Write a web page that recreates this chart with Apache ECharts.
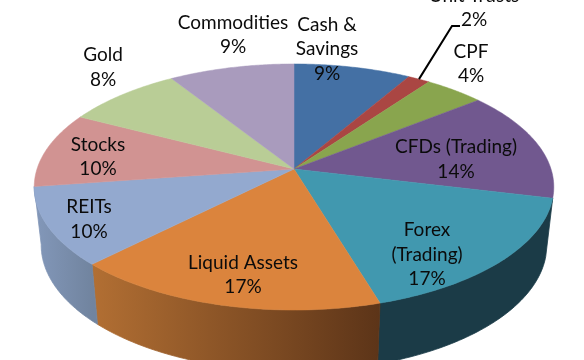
<!DOCTYPE html>
<html><head><meta charset="utf-8">
<style>html,body{margin:0;padding:0;background:#fff}#c{width:584px;height:360px}</style>
<script src="https://cdn.jsdelivr.net/npm/echarts@6/dist/echarts.min.js"></script>
</head><body><div id="c"></div>
<script>
const categories = ['Cash &\nSavings','Unit Trusts','CPF','CFDs (Trading)','Forex\n(Trading)','Liquid Assets','REITs','Stocks','Gold','Commodities'];
const shares = [8.4,1.6,4.3,14.5,16.6,17.1,10.3,9.9,8.4,9.0];
const percentLabels = ['9%','2%','4%','14%','17%','17%','10%','10%','8%','9%'];
const topColors = ['#4470A4','#AA4643','#89A54E','#71588F','#4198AF','#DB843D','#93A9CF','#D19392','#B9CD96','#A99BBD'];

const FONT = 'Lato';
const FS = 19;
const LH = 24.5;
// label block centres
const labelAt = [[327,49],[474,8],[471,64],[456,159.5],[427,254.5],[243,275],[89,219.5],[98,157],[103,67.5],[233,35]];
// wall fills: only the front three slices show a side
const wallFill = {
  4: '#1B3B47',
  5: {type:'linear',global:true,x:92,y:0,x2:381,y2:0,colorStops:[{offset:0,color:'#B26F33'},{offset:1,color:'#5C3418'}]},
  6: {type:'linear',global:true,x:34,y:0,x2:92,y2:0,colorStops:[{offset:0,color:'#8398BA'},{offset:1,color:'#71849F'}]}
};
// perspective disc
const AP = {x:294,y:169,a:257,b:120.4,k:-0.1463};
const TOP = {cx:293.5,cy:187,rx:260,ry:123};
const BOT = {cx:293.5,cy:245,rx:253,ry:126};

const total = shares.reduce((s,v)=>s+v,0);
const cum = [0]; shares.forEach(v=>cum.push(cum[cum.length-1]+v));
function rim(frac){
  const t = frac*2*Math.PI, u = Math.sin(t), v = -Math.cos(t), d = 1+AP.k*v;
  return [AP.x+AP.a*u/d, AP.y+AP.b*v/d];
}
function drop(p){
  return [BOT.cx+(p[0]-TOP.cx)*BOT.rx/TOP.rx, BOT.cy+(p[1]-TOP.cy)*BOT.ry/TOP.ry];
}
function arc(i){
  const a = cum[i]/total, b = cum[i+1]/total, n = 60, out = [];
  for(let j=0;j<=n;j++) out.push(rim(a+(b-a)*j/n));
  return out;
}
const indices = categories.map((_,i)=>i);

const option = {
  animation:false,
  backgroundColor:'#fff',
  tooltip:{show:false},
  series:[
    {type:'custom',coordinateSystem:'none',z:1,silent:true,data:indices,clip:false,
     renderItem(params,api){
       const i = api.value(0);
       if(!wallFill[i]) return {type:'group',children:[]};
       const a = arc(i);
       const pts = a.concat(a.slice().reverse().map(drop));
       return {type:'polygon',shape:{points:pts},style:{fill:wallFill[i],stroke:wallFill[i],lineWidth:0.8}};
     }},
    {type:'custom',coordinateSystem:'none',z:2,silent:true,data:indices,clip:false,
     renderItem(params,api){
       const i = api.value(0);
       const pts = [[AP.x,AP.y]].concat(arc(i));
       return {type:'polygon',shape:{points:pts},style:{fill:topColors[i],stroke:topColors[i],lineWidth:0.5}};
     }},
    {type:'custom',coordinateSystem:'none',z:3,silent:true,data:indices,clip:false,
     renderItem(params,api){
       const i = api.value(0);
       const kids = [{type:'text',style:{
         text:categories[i]+'\n'+percentLabels[i],x:labelAt[i][0],y:labelAt[i][1],
         align:'center',verticalAlign:'middle',fontFamily:FONT,fontSize:FS,lineHeight:LH,fill:'#0b0b0b'}}];
       if(i===1){
         const p = rim((cum[i]+cum[i+1])/2/total);
         kids.push({type:'polyline',shape:{points:[p,[452,26],[460,26]]},style:{stroke:'#000',lineWidth:2,fill:null}});
       }
       return {type:'group',children:kids};
     }}
  ]
};
echarts.init(document.getElementById('c'),null,{renderer:'canvas'}).setOption(option);
</script></body></html>
